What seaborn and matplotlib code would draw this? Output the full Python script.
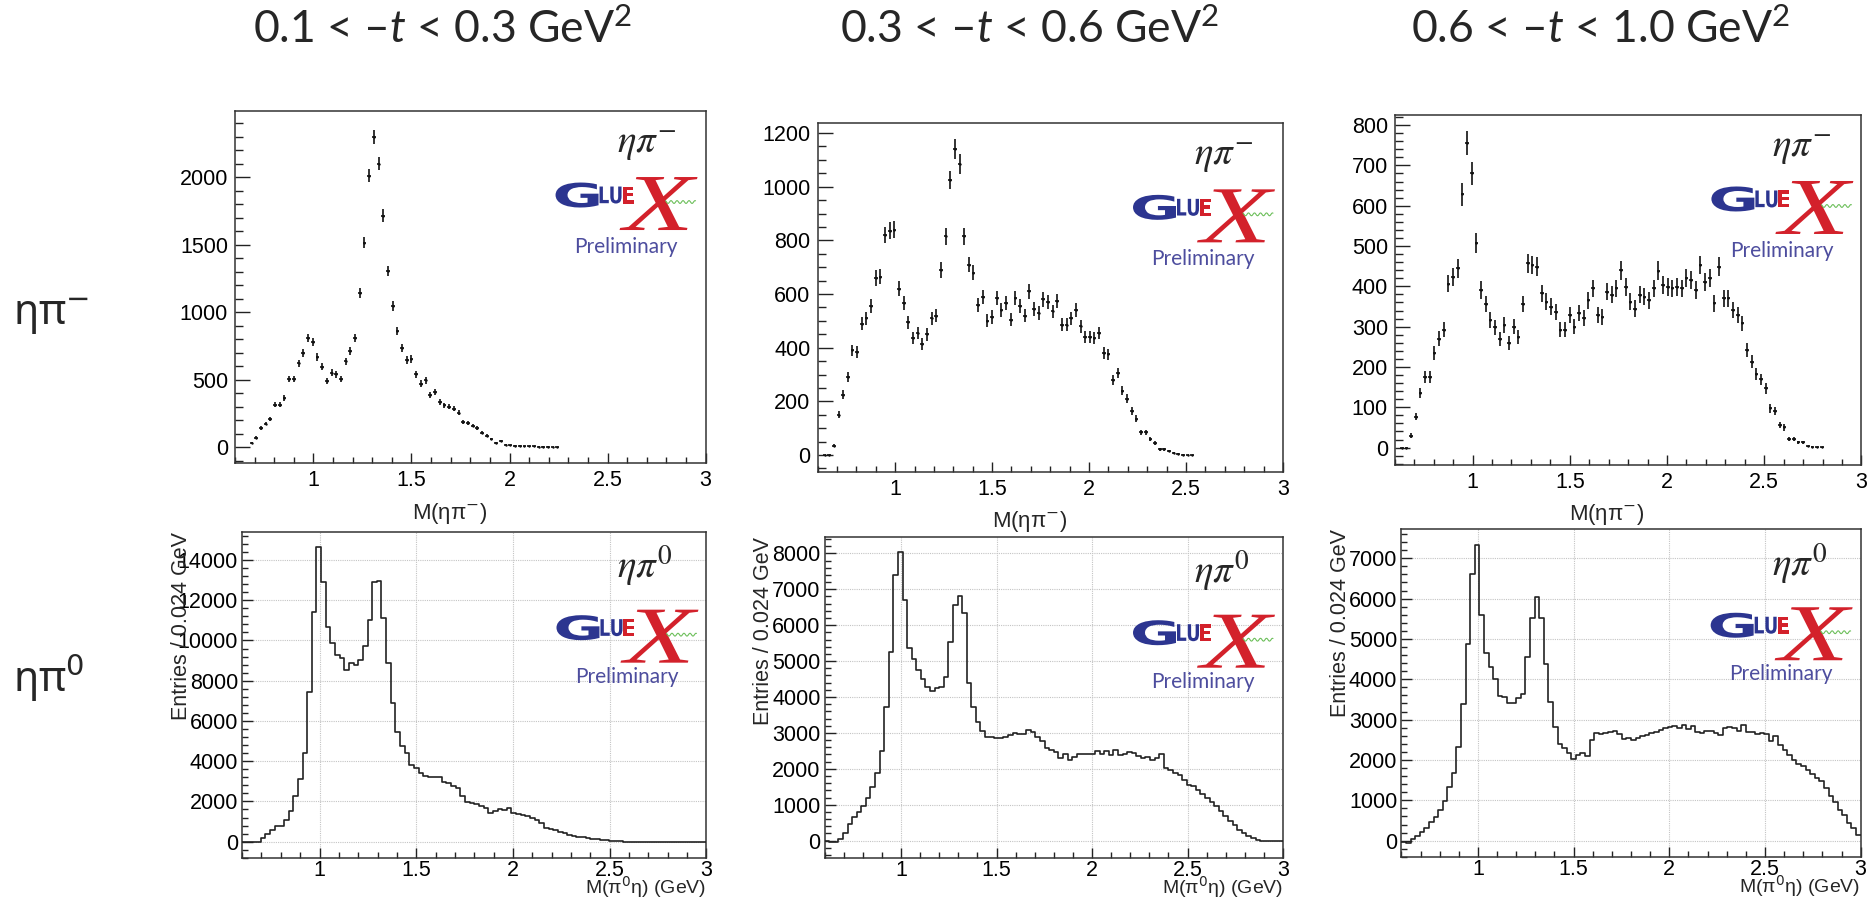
import numpy as np
import seaborn as sns
import matplotlib
matplotlib.use("Agg")
import matplotlib.pyplot as plt
from matplotlib.ticker import MultipleLocator, FuncFormatter
from matplotlib.textpath import TextPath
from matplotlib.patches import PathPatch
from matplotlib.font_manager import FontProperties
from matplotlib.transforms import Affine2D, ScaledTranslation

# ---------------------------------------------------------------- binning
M_LO, M_HI, BIN_W = 0.6, 3.0, 0.024          # 100 bins of 24 MeV

# ---------------------------------------------------------------- labels
T_RANGES = ["0.1 < –$t$ < 0.3 GeV$^\\mathrm{2}$",
            "0.3 < –$t$ < 0.6 GeV$^\\mathrm{2}$",
            "0.6 < –$t$ < 1.0 GeV$^\\mathrm{2}$"]
ROW_LABELS = ["ηπ$^{-}$", "ηπ$^{0}$"]
TAG_TOP = r"$\eta\pi^{-}$"
TAG_BOT = r"$\eta\pi^{0}$"
XLABEL_TOP = "M(ηπ$^{-}$)"
XLABEL_BOT = "M(π$^{0}$η) (GeV)"
YLABEL_BOT = "Entries / 0.024 GeV"

# ---------------------------------------------------------------- eta pi- (points), first filled bin index per t-range
ETAPIM_FIRST = [3, 1, 1]
ETAPIM_T1 = [30, 70, 140, 175, 210, 315, 315, 365, 505, 505,
             620, 700, 810, 780, 670, 595, 490, 550, 540, 505,
             635, 715, 810, 1140, 1515, 2010, 2300, 2100, 1715, 1305,
             1045, 860, 735, 645, 655, 540, 470, 495, 385, 405,
             335, 310, 300, 285, 255, 185, 180, 160, 140, 105,
             85, 60, 30, 45, 17, 15, 12, 10, 8, 6,
             5, 4, 3, 3, 2, 2]
ETAPIM_T2 = [0, 0, 35, 150, 225, 290, 390, 385, 490, 510, 555,
             660, 665, 820, 835, 840, 620, 565, 495, 435, 455,
             415, 450, 510, 520, 690, 815, 1025, 1140, 1085, 815,
             710, 680, 560, 590, 500, 515, 585, 540, 565, 505,
             585, 555, 520, 610, 545, 530, 580, 570, 535, 575,
             485, 485, 510, 540, 480, 440, 440, 435, 455, 380,
             375, 280, 305, 240, 210, 165, 135, 85, 85, 60,
             45, 22, 22, 15, 8, 5, 2, 1, 0]
ETAPIM_T3 = [0, 0, 30, 77, 135, 176, 176, 235, 270, 292, 407, 424,
             445, 628, 755, 680, 507, 391, 356, 317, 298, 269,
             304, 259, 300, 274, 356, 457, 453, 449, 383, 362,
             350, 337, 292, 292, 329, 300, 333, 321, 366, 395,
             329, 325, 387, 379, 395, 440, 399, 362, 345, 379,
             374, 366, 395, 439, 403, 399, 395, 399, 395, 420,
             415, 391, 453, 412, 420, 358, 449, 370, 370, 341,
             329, 308, 242, 213, 183, 169, 147, 98, 91, 56,
             50, 21, 21, 13, 13, 3, 2, 1, 1]
ERR_SCALE = 1.1   # weighted-event errors relative to sqrt(N)

# ---------------------------------------------------------------- eta pi0 (histograms, 100 bins each)
ETAPI0_T1 = [0, 0, 0, 0, 200, 400, 580, 800, 800, 1080,
             1540, 2270, 3100, 4400, 7450, 11430, 14660, 12920, 10690, 9860,
             9280, 9110, 8530, 8860, 8780, 9030, 9730, 11020, 12920, 12960,
             11100, 8860, 6880, 5470, 4760, 4390, 3810, 3650, 3400, 3260,
             3200, 3230, 3230, 2980, 2900, 2770, 2650, 2270, 1990, 1940,
             1870, 1770, 1660, 1440, 1540, 1610, 1570, 1660, 1440, 1360,
             1330, 1280, 1160, 1080, 910, 700, 650, 580, 500, 415,
             330, 300, 250, 215, 180, 150, 115, 100, 66, 50,
             33, 16, 0, 0, 0, 0, 0, 0, 0, 0,
             0, 0, 0, 0, 0, 0, 0, 0, 0, 0]
ETAPI0_T2 = [-20, -30, -50, 40, 220, 460, 670, 810, 965, 1200,
             1500, 1890, 2505, 3710, 5260, 7400, 8050, 6700, 5355, 5050,
             4750, 4490, 4290, 4170, 4240, 4290, 4565, 5540, 6560, 6810,
             6330, 4400, 3710, 3300, 3050, 2900, 2880, 2870, 2870, 2900,
             2935, 3010, 2960, 2960, 3085, 3030, 2900, 2780, 2590, 2525,
             2470, 2310, 2400, 2260, 2340, 2400, 2400, 2400, 2400, 2500,
             2400, 2500, 2375, 2525, 2375, 2400, 2470, 2430, 2355, 2310,
             2340, 2260, 2300, 2400, 2030, 1965, 1890, 1815, 1700, 1560,
             1530, 1420, 1310, 1190, 1070, 955, 815, 675, 560, 440,
             300, 205, 130, 65, 20, 0, 0, 0, 0, 0]
ETAPI0_T3 = [-25, -50, 35, 115, 225, 305, 470, 580, 760, 985,
             1320, 1685, 2330, 3390, 4875, 6610, 7330, 5595, 4660, 4300,
             4000, 3590, 3570, 3400, 3420, 3530, 3640, 4545, 5510, 6030,
             5510, 4380, 3445, 2825, 2395, 2290, 2170, 2030, 2130, 2180,
             2105, 2500, 2670, 2650, 2670, 2690, 2720, 2640, 2530, 2540,
             2500, 2540, 2590, 2630, 2670, 2700, 2740, 2790, 2815, 2845,
             2800, 2860, 2780, 2850, 2700, 2680, 2710, 2730, 2670, 2610,
             2800, 2820, 2790, 2720, 2860, 2700, 2690, 2640, 2680, 2650,
             2460, 2590, 2380, 2255, 2130, 2005, 1900, 1840, 1760, 1640,
             1560, 1470, 1300, 1100, 970, 760, 640, 430, 305, 150]

# ---------------------------------------------------------------- axis settings per panel
TOP_YLIM = [(-120, 2490), (-62, 1236), (-43, 825)]
TOP_YSTEP = [(500, 100), (200, 50), (100, 20)]
BOT_YLIM = [(-825, 15407), (-490, 8463), (-412, 7719)]
BOT_YSTEP = [(2000, 400), (1000, 200), (1000, 200)]

# axes rectangles in figure fractions
TOP_RECTS = [(0.1259, 0.4846, 0.2520, 0.3919),
             (0.4379, 0.4753, 0.2493, 0.3875),
             (0.7471, 0.4828, 0.2499, 0.3893)]
BOT_RECTS = [(0.1297, 0.0453, 0.2487, 0.3633),
             (0.4417, 0.0453, 0.2455, 0.3577),
             (0.7506, 0.0464, 0.2460, 0.3649)]
TITLE_X = [443, 1030, 1601]

LOGO_BLUE = "#2c3590"
LOGO_RED = "#d3212b"
LOGO_GREEN = "#6cbf5a"
PRELIM = "#4d4d9e"
TICK_FS = 15.5

sns.set_style("ticks")
plt.rcParams["font.family"] = ["Liberation Sans", "DejaVu Sans"]
plt.rcParams["mathtext.fontset"] = "custom"
plt.rcParams["mathtext.rm"] = "Lato"
plt.rcParams["mathtext.it"] = "Lato:italic"
plt.rcParams["mathtext.bf"] = "Lato:bold"

W, H = 1867, 899
fig = plt.figure(figsize=(W / 100, H / 100), dpi=100)

SANS_BOLD = FontProperties(family="DejaVu Sans", weight="bold")
SERIF_IT = FontProperties(family="Liberation Serif", style="italic")


def corner(ax):
    """Pixel offsets measured from the top-right corner of an axes."""
    return Affine2D() + ScaledTranslation(1, 1, ax.transAxes)


def glyph(ax, s, prop, x0, x1, y0, y1, color):
    tp = TextPath((0, 0), s, size=100, prop=prop)
    bb = tp.get_extents()
    tr = (Affine2D().translate(-bb.x0, -bb.y0)
          .scale((x1 - x0) / bb.width, (y1 - y0) / bb.height)
          .translate(x0, y0)) + ScaledTranslation(1, 1, ax.transAxes)
    ax.add_patch(PathPatch(tp, transform=tr, facecolor=color, lw=0,
                           clip_on=False, zorder=5))


def draw_tag(ax, tag, gc, prelim_y):
    tr = corner(ax)
    ax.text(-89, -34, tag, transform=tr, ha="left", va="center",
            fontsize=28, math_fontfamily="stix", zorder=5)
    glyph(ax, "G", SANS_BOLD, -150, -107, gc - 12.5, gc + 12.5, LOGO_BLUE)
    glyph(ax, "LU", SANS_BOLD, -106, -84, gc - 8.5, gc + 8.5, LOGO_BLUE)
    glyph(ax, "E", SANS_BOLD, -83, -72, gc - 8.5, gc + 8.5, LOGO_RED)
    glyph(ax, "X", SERIF_IT, -86, -8, gc - 35, gc + 18, LOGO_RED)
    wx = np.linspace(-40, -10, 80)
    ax.plot(wx, gc - 7 + 1.4 * np.sin(wx * 2 * np.pi / 6.0), transform=tr,
            color=LOGO_GREEN, lw=0.8, clip_on=False, zorder=6)
    ax.text(-80, prelim_y, "Preliminary", transform=tr, ha="center",
            va="center", fontsize=15, family="Lato", color=PRELIM, zorder=5)


def style_axes(ax, ylim, ystep, top):
    ax.set_xlim(M_LO, M_HI)
    ax.set_ylim(*ylim)
    ax.xaxis.set_major_locator(MultipleLocator(0.5))
    ax.xaxis.set_minor_locator(MultipleLocator(0.1))
    ax.yaxis.set_major_locator(MultipleLocator(ystep[0]))
    ax.yaxis.set_minor_locator(MultipleLocator(ystep[1]))
    ax.xaxis.set_major_formatter(FuncFormatter(lambda v, p: f"{v:g}"))
    ax.yaxis.set_major_formatter(FuncFormatter(lambda v, p: f"{v:.0f}"))
    ax.tick_params(which="both", direction="in", top=False, right=False,
                   labelsize=TICK_FS, colors="#222222", labelcolor="black",
                   width=1.0)
    if top:
        ax.tick_params(axis="y", which="major", length=11, pad=5)
        ax.tick_params(axis="y", which="minor", length=6)
        ax.tick_params(axis="x", which="major", length=7.5, pad=5)
        ax.tick_params(axis="x", which="minor", length=4)
    else:
        ax.tick_params(axis="y", which="major", length=8, pad=3)
        ax.tick_params(axis="y", which="minor", length=4)
        ax.tick_params(axis="x", which="major", length=7.5, pad=1.0)
        ax.tick_params(axis="x", which="minor", length=4)
        ax.grid(True, which="major", color="#c4c4c4", lw=0.8,
                linestyle=(0, (1, 1)))
    for sp in ax.spines.values():
        sp.set_linewidth(1.1)
        sp.set_color("#333333")
    ax.set_xlabel("")
    ax.set_ylabel("")


# ---------------------------------------------------------------- top row: eta pi-
top_sets = [ETAPIM_T1, ETAPIM_T2, ETAPIM_T3]
for i, (vals, first) in enumerate(zip(top_sets, ETAPIM_FIRST)):
    ax = fig.add_axes(TOP_RECTS[i])
    y = np.asarray(vals, dtype=float)
    x = M_LO + (first + np.arange(len(y)) + 0.5) * BIN_W
    err = ERR_SCALE * np.sqrt(np.clip(y, 0, None))
    ax.errorbar(x, y, yerr=err, xerr=0.0095, fmt="none", ecolor="#111111",
                elinewidth=1.2, capsize=0, zorder=3)
    sns.scatterplot(x=x, y=y, ax=ax, s=3, marker="o", color="#111111",
                    linewidth=0, legend=False, zorder=4)
    style_axes(ax, TOP_YLIM[i], TOP_YSTEP[i], top=True)
    draw_tag(ax, TAG_TOP, -84, -136)
    ax.annotate(XLABEL_TOP, xy=(0.5, 0), xycoords="axes fraction",
                xytext=(-21, -50), textcoords="offset pixels", ha="center",
                va="center", fontsize=16, math_fontfamily="dejavusans")

# ---------------------------------------------------------------- bottom row: eta pi0
bot_sets = [ETAPI0_T1, ETAPI0_T2, ETAPI0_T3]
edges = M_LO + np.arange(101) * BIN_W
for i, vals in enumerate(bot_sets):
    ax = fig.add_axes(BOT_RECTS[i])
    h = np.asarray(vals, dtype=float)
    sns.lineplot(x=edges, y=np.append(h, h[-1]), ax=ax, drawstyle="steps-post",
                 estimator=None, color="#222222", lw=1.2, legend=False, zorder=3)
    style_axes(ax, BOT_YLIM[i], BOT_YSTEP[i], top=False)
    draw_tag(ax, TAG_BOT, -96, -145)
    ax.annotate(XLABEL_BOT, xy=(1, 0), xycoords="axes fraction",
                xytext=(0, -29), textcoords="offset pixels", ha="right",
                va="center", fontsize=14, math_fontfamily="dejavusans")
    ax.annotate(YLABEL_BOT, xy=(0, 1), xycoords="axes fraction",
                xytext=(-61, 0), textcoords="offset pixels", ha="center",
                va="top", rotation=90, fontsize=15.5)

# ---------------------------------------------------------------- titles and row labels
for tx, t in zip(TITLE_X, T_RANGES):
    fig.text(tx / W, 1 - 43 / H, t, ha="center", va="baseline", fontsize=32,
             family="Lato", math_fontfamily="custom")
fig.text(13 / W, 1 - 325 / H, ROW_LABELS[0], ha="left", va="baseline",
         fontsize=30, family="Noto Sans", math_fontfamily="dejavusans")
fig.text(13 / W, 1 - 692 / H, ROW_LABELS[1], ha="left", va="baseline",
         fontsize=30, family="Noto Sans", math_fontfamily="dejavusans")

fig.savefig("out.png", dpi=100)
